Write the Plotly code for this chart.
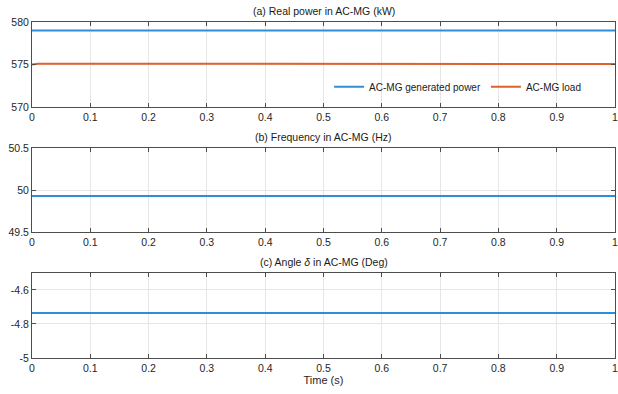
import plotly.graph_objects as go

time_s = [0, 0.01, 0.1, 0.2, 0.3, 0.4, 0.5, 0.6, 0.7, 0.8, 0.9, 1.0]
gen_power_kw = [579.0, 579.0, 579.0, 579.0, 579.0, 579.0, 579.0, 579.0, 579.0, 579.0, 579.0, 579.0]
load_kw = [575.0, 575.1, 575.1, 575.1, 575.1, 575.1, 575.1, 575.1, 575.1, 575.1, 575.1, 575.05]
freq_hz = [49.93, 49.93, 49.93, 49.93, 49.93, 49.93, 49.93, 49.93, 49.93, 49.93, 49.93, 49.93]
angle_deg = [-4.735, -4.735, -4.735, -4.735, -4.735, -4.735, -4.735, -4.735, -4.735, -4.735, -4.735, -4.735]

x_ticks = [0, 0.1, 0.2, 0.3, 0.4, 0.5, 0.6, 0.7, 0.8, 0.9, 1]
x_ticklabels = ["0", "0.1", "0.2", "0.3", "0.4", "0.5", "0.6", "0.7", "0.8", "0.9", "1"]
titles = ["(a) Real power in AC-MG (kW)", "(b) Frequency in AC-MG (Hz)",
          "(c) Angle <i>δ</i> in AC-MG (Deg)"]

BLUE = "#2f8fd6"
ORANGE = "#e0612b"
FONT = "Liberation Sans, Arial, sans-serif"

fig = go.Figure()

doms = [[0.747, 1.0], [0.375, 0.625], [0.0, 0.253]]

fig.add_trace(go.Scatter(x=time_s, y=gen_power_kw, mode="lines", name="AC-MG generated power",
                         line=dict(color=BLUE, width=2), xaxis="x", yaxis="y"))
fig.add_trace(go.Scatter(x=time_s, y=load_kw, mode="lines", name="AC-MG load",
                         line=dict(color=ORANGE, width=2), xaxis="x", yaxis="y"))
fig.add_trace(go.Scatter(x=time_s, y=freq_hz, mode="lines", showlegend=False,
                         line=dict(color=BLUE, width=2), xaxis="x2", yaxis="y2"))
fig.add_trace(go.Scatter(x=time_s, y=angle_deg, mode="lines", showlegend=False,
                         line=dict(color=BLUE, width=2), xaxis="x3", yaxis="y3"))

axcommon = dict(showline=True, linecolor="#4d4d4d", linewidth=1, mirror="ticks",
                ticks="inside", ticklen=4, tickcolor="#4d4d4d", automargin=False,
                ticklabeloverflow="allow",
                showgrid=True, gridcolor="#e6e6e6", gridwidth=1, zeroline=False,
                tickfont=dict(family=FONT, size=10.5, color="#262626"))

y_ranges = [[570, 580], [49.5, 50.5], [-5, -4.5]]
y_ticks = [[570, 575, 580], [49.5, 50, 50.5], [-5, -4.8, -4.6]]
y_ticklabels = [["570", "575", "580"], ["49.5", "50", "50.5"], ["-5", "-4.8", "-4.6"]]

layout = dict()
for i in range(3):
    xs = "xaxis" if i == 0 else f"xaxis{i+1}"
    ys = "yaxis" if i == 0 else f"yaxis{i+1}"
    yref = "y" if i == 0 else f"y{i+1}"
    xref = "x" if i == 0 else f"x{i+1}"
    layout[xs] = dict(axcommon, domain=[0, 1], anchor=yref, range=[0, 1],
                      tickvals=x_ticks, ticktext=x_ticklabels)
    layout[ys] = dict(axcommon, domain=doms[i], anchor=xref, range=y_ranges[i],
                      tickvals=y_ticks[i], ticktext=y_ticklabels[i])
layout["xaxis3"]["title"] = dict(text="Time (s)", font=dict(family=FONT, size=11, color="#262626"),
                                 standoff=3)
fig.update_layout(**layout)

title_y = [1.0, 0.625, 0.253]
for i in range(3):
    fig.add_annotation(text=titles[i], xref="paper", yref="paper", x=0.5, y=title_y[i],
                       yshift=3, showarrow=False, xanchor="center", yanchor="bottom",
                       font=dict(family=FONT, size=10.5, color="#1a1a1a"))

fig.update_layout(
    width=618, height=394,
    margin=dict(l=32, r=3, t=22, b=36),
    paper_bgcolor="white", plot_bgcolor="white",
    font=dict(family=FONT, size=10.5, color="#262626"),
    legend=dict(orientation="h", x=0.73, y=0.807, xanchor="center", yanchor="middle",
                bgcolor="rgba(255,255,255,0)", borderwidth=0,
                font=dict(family=FONT, size=10, color="#1a1a1a"),
                itemwidth=30, tracegroupgap=0),
    showlegend=True,
)

fig.write_html("out.html", config={"displayModeBar": False},
               post_script="document.body.style.margin='0';document.body.style.padding='0';")
